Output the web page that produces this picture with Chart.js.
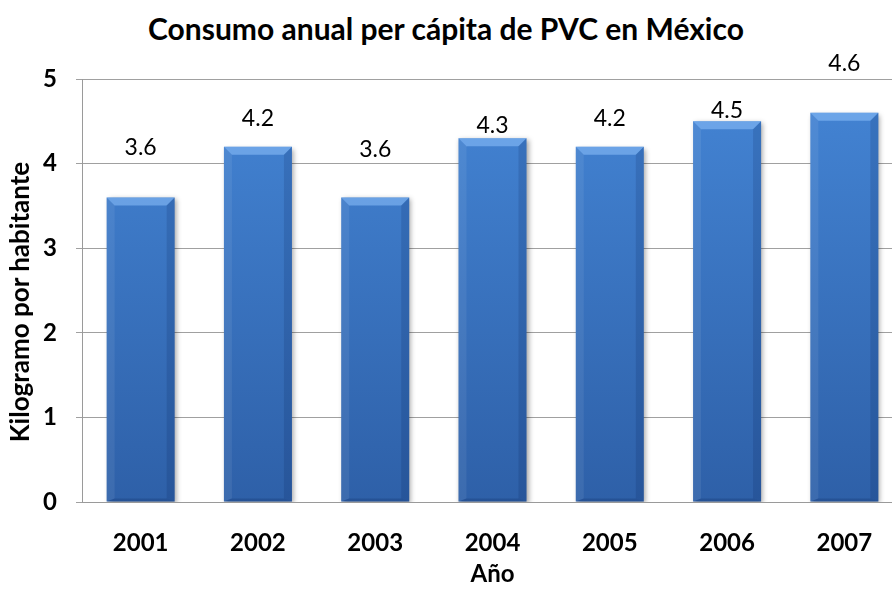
<!DOCTYPE html>
<html lang="es">
<head>
    <meta charset="UTF-8">
    <title>Consumo anual per cápita de PVC en México</title>
    <script src="https://cdn.jsdelivr.net/npm/chart.js"></script>
    <style>
        body { margin: 0; background: #fff; overflow: hidden; width: 892px; height: 589px; position: relative; }
        #titulo {
            position: absolute; left: 0; top: 10px; width: 892px;
            text-align: center; font: bold 30px Lato, sans-serif; color: #000;
        }
        #tituloY {
            position: absolute; left: 19px; top: 302px; width: 400px; height: 32px;
            margin-left: -200px; margin-top: -16px; line-height: 32px;
            transform: rotate(-90deg); text-align: center;
            font: bold 26px Lato, sans-serif; color: #000; z-index: 2;
        }
        #grafica { position: absolute; left: 0; top: 0; width: 912px; height: 589px; }
    </style>
</head>
<body>
    <div id="titulo">Consumo anual per cápita de PVC en México</div>
    <div id="tituloY">Kilogramo por habitante</div>
    <div id="grafica"><canvas id="consumoPVC"></canvas></div>

    <script>
        // Datos: consumo de PVC por habitante (kg)
        const anios = ['2001', '2002', '2003', '2004', '2005', '2006', '2007'];
        const consumo = [3.6, 4.2, 3.6, 4.3, 4.2, 4.5, 4.6];
        const ticksY = [0, 1, 2, 3, 4, 5];

        // distancia (px) de la etiqueta sobre cada barra
        const desplazEtiquetas = [50, 28, 48, 13, 28, 11, 49];

        // sombra + bisel de las barras y etiquetas de valor
        const barrasBisel = {
            id: 'barrasBisel',
            beforeDatasetsDraw(chart) {
                const ctx = chart.ctx;
                ctx.save();
                ctx.shadowColor = 'rgba(0,0,0,0.35)';
                ctx.shadowBlur = 5;
                ctx.shadowOffsetX = 2;
                ctx.shadowOffsetY = 2;
            },
            afterDatasetsDraw(chart) {
                const ctx = chart.ctx;
                ctx.restore();
                const poly = (pts, color) => {
                    ctx.beginPath();
                    ctx.moveTo(pts[0][0], pts[0][1]);
                    for (let i = 1; i < pts.length; i++) ctx.lineTo(pts[i][0], pts[i][1]);
                    ctx.closePath();
                    ctx.fillStyle = color;
                    ctx.fill();
                };
                const meta = chart.getDatasetMeta(0);
                meta.data.forEach((bar, i) => {
                    const p = bar.getProps(['x', 'y', 'base', 'width'], true);
                    const l = p.x - p.width / 2, r = p.x + p.width / 2, t = p.y, b = p.base, e = 8;
                    ctx.save();
                    poly([[l, t], [r, t], [r - e, t + e], [l + e, t + e]], 'rgba(150,200,255,0.5)');
                    poly([[l, t], [l + e, t + e], [l + e, b - 3], [l, b]], 'rgba(255,255,255,0.07)');
                    poly([[r, t], [r, b], [r - e, b - 3], [r - e, t + e]], 'rgba(0,20,70,0.14)');
                    poly([[l, b], [l + e, b - 3], [r - e, b - 3], [r, b]], 'rgba(0,20,70,0.18)');
                    ctx.restore();

                    ctx.save();
                    ctx.font = '23px Lato, sans-serif';
                    ctx.fillStyle = '#000';
                    ctx.textAlign = 'center';
                    ctx.textBaseline = 'middle';
                    ctx.fillText(consumo[i].toFixed(1), p.x, t - desplazEtiquetas[i]);
                    ctx.restore();
                });
            }
        };

        const ctx = document.getElementById('consumoPVC').getContext('2d');
        new Chart(ctx, {
            type: 'bar',
            data: {
                labels: anios,
                datasets: [{
                    label: 'Kilogramo por habitante',
                    data: consumo,
                    backgroundColor: (c) => {
                        const area = c.chart.chartArea;
                        if (!area) return '#3a76c4';
                        const g = c.chart.ctx.createLinearGradient(0, area.top, 0, area.bottom);
                        g.addColorStop(0, '#4485d5');
                        g.addColorStop(1, '#2e60a8');
                        return g;
                    },
                    borderWidth: 0,
                    barPercentage: 0.58,
                    categoryPercentage: 1
                }]
            },
            options: {
                responsive: true,
                maintainAspectRatio: false,
                animation: false,
                layout: { padding: { top: 79, right: 9, left: 0, bottom: 0 } },
                plugins: {
                    legend: { display: false },
                    tooltip: { enabled: false },
                    title: { display: false }
                },
                scales: {
                    x: {
                        grid: { display: false, drawTicks: false },
                        border: { display: true, color: '#9a9a9a', width: 1 },
                        ticks: {
                            color: '#000',
                            padding: 27,
                            font: { family: 'Lato', size: 24, weight: 'bold' }
                        },
                        title: {
                            display: true,
                            text: 'Año',
                            color: '#000',
                            padding: { top: 0, bottom: 0 },
                            font: { family: 'Lato', size: 24, weight: 'bold' }
                        },
                        afterFit: (s) => { s.height = 87; }
                    },
                    y: {
                        min: 0,
                        max: 5,
                        afterBuildTicks: (s) => { s.ticks = ticksY.map(v => ({ value: v })); },
                        grid: { color: '#a0a0a0', lineWidth: 1, drawTicks: true, tickLength: 6 },
                        border: { display: true, color: '#9a9a9a', width: 1 },
                        ticks: {
                            color: '#000',
                            padding: 19,
                            font: { family: 'Lato', size: 24, weight: 'bold' }
                        },
                        // el título vertical va en HTML (#tituloY)
                        title: { display: false },
                        afterFit: (s) => { s.width = 82; }
                    }
                }
            },
            plugins: [barrasBisel]
        });
    </script>
</body>
</html>
